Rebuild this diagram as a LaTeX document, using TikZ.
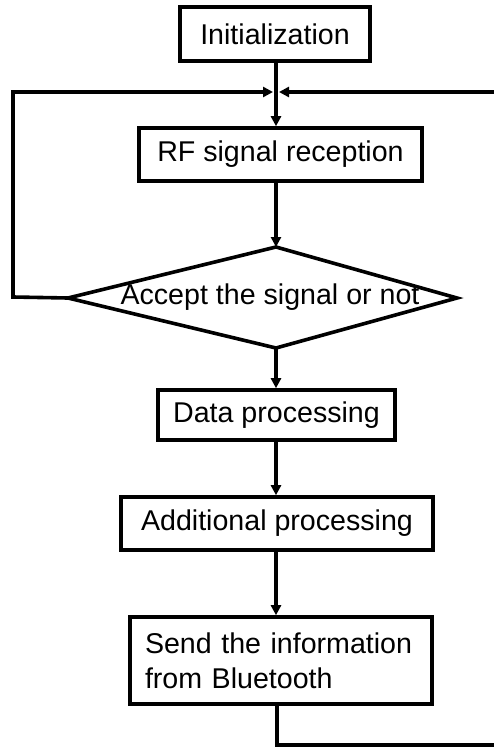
\documentclass[tikz,border=0pt]{standalone}
\usepackage{fontspec}
\setmainfont{Liberation Sans}
\usetikzlibrary{arrows.meta}
\begin{document}
\begin{tikzpicture}[x=1pt,y=-1pt,
  box/.style={draw,line width=3.6pt,minimum width=#1,inner sep=0pt,
    font=\fontsize{28.6}{35}\selectfont},
  flow/.style={line width=3.6pt,-{Triangle[length=10pt,width=10pt]}},
  wire/.style={line width=3.6pt},
  lbl/.style={font=\fontsize{28.6}{35}\selectfont,inner sep=0pt}]
\useasboundingbox (0,0) rectangle (494,747);
\fill[white] (0,0) rectangle (494,747);

% process boxes
\node[box=190pt,minimum height=54pt] (init) at (275,34) {Initialization};
\node[box=283pt,minimum height=53pt] (rf) at (280.5,154.5) {RF signal reception};
\node[box=237pt,minimum height=50pt] (data) at (276.5,415) {Data processing};
\node[box=312pt,minimum height=53pt] (add) at (277,523.5) {Additional processing};
\node[box=302pt,minimum height=87pt,text width=272pt,align=left,inner xsep=15pt]
  (send) at (281,660.5) {Send the information\\from Bluetooth};

% decision diamond
\coordinate (dtop) at (276,247);
\coordinate (dright) at (457,298);
\coordinate (dbot) at (276,348);
\coordinate (dleft) at (68,298);
\draw[wire,line join=miter] (dtop) -- (dright) -- (dbot) -- (dleft) -- cycle;
\node[lbl] (dec) at (270,297) {Accept the signal or not};

% junction of the loop-back lines and the loop corners
\coordinate (j) at (276,92);
\coordinate (lc) at (13,297);
\coordinate (lt) at (13,92);
\coordinate (rb) at (494,745);
\coordinate (rt) at (494,92);
\coordinate (sb) at (277,745);

% main flow
\draw[flow] (init.south -| j) -- (rf.north -| j);
\draw[flow] (rf.south -| j) -- (dtop);
\draw[flow] (dbot) -- (data.north -| dbot);
\draw[flow] (data.south -| dbot) -- (add.north -| dbot);
\draw[flow] (add.south -| dbot) -- (send.north -| dbot);

% loop back from the decision
\draw[flow,shorten >=3pt] (dleft) -- (lc) -- (lt) -- (j);
% loop back from the last step, running along the right edge
\draw[wire] (send.south -| sb) -- (sb) -- (rb);
\draw[flow,shorten >=3pt] (rt) -- (j);
\end{tikzpicture}
\end{document}
